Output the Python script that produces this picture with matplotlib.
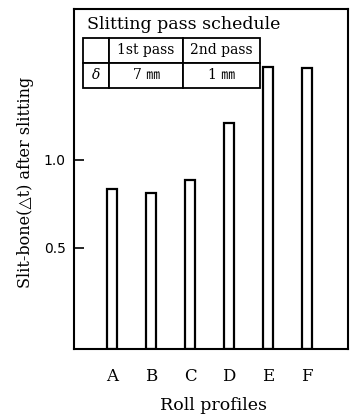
import matplotlib
matplotlib.use("Agg")
import matplotlib.pyplot as plt
import numpy as np

categories = ["A", "B", "C", "D", "E", "F"]
slit_bone = [0.835, 0.81, 0.886, 1.21, 1.53, 1.52]
yticks = [0.5, 1.0]
ytick_labels = ["0.5", "1.0"]
table_header = ["", "1st pass", "2nd pass"]
table_row = ["δ", "7 ㎜", "1 ㎜"]

SERIF = ["DejaVu Serif", "Noto Sans CJK JP", "DejaVu Sans"]

fig = plt.figure(figsize=(3.56, 4.19), dpi=100)
ax = fig.add_axes([0.208, 0.167, 0.770, 0.812])

ymin, ymax = -0.074, 1.858
x = np.arange(len(categories))
vals = np.array(slit_bone)
ax.bar(x, vals - ymin, bottom=ymin, width=0.26, color="white",
       edgecolor="black", linewidth=1.6)

ax.set_xlim(-0.974, 6.05)
ax.set_ylim(ymin, ymax)
ax.set_xticks(x)
ax.set_xticklabels(categories, family=SERIF, fontsize=12)
ax.tick_params(axis="x", length=0, pad=14)
ax.set_yticks(yticks)
ax.set_yticklabels(ytick_labels, fontsize=10)
ax.tick_params(axis="y", direction="in", length=7, width=1.2, pad=6)
for s in ax.spines.values():
    s.set_linewidth(1.5)

ax.set_ylabel("Slit-bone(△t) after slitting", family=SERIF, fontsize=11.5)
ax.yaxis.set_label_coords(-0.145, 0.49)
ax.set_xlabel("Roll profiles", family=SERIF, fontsize=12.5)
ax.xaxis.set_label_coords(0.507, -0.142)

ax.text(0.047, 0.953, "Slitting pass schedule", transform=ax.transAxes,
        family=SERIF, fontsize=12.5, ha="left", va="center")

tbl = ax.table(cellText=[table_header, table_row],
               colWidths=[26, 74, 77], cellLoc="center",
               bbox=[0.033, 0.768, 0.646, 0.147])
tbl.auto_set_font_size(False)
for (r, c), cell in tbl.get_celld().items():
    cell.set_linewidth(1.3)
    cell.get_text().set_fontsize(10)
    cell.get_text().set_family(SERIF)
    if c == 0 and r == 1:
        cell.get_text().set_style("italic")

fig.savefig("out.png", dpi=100)
